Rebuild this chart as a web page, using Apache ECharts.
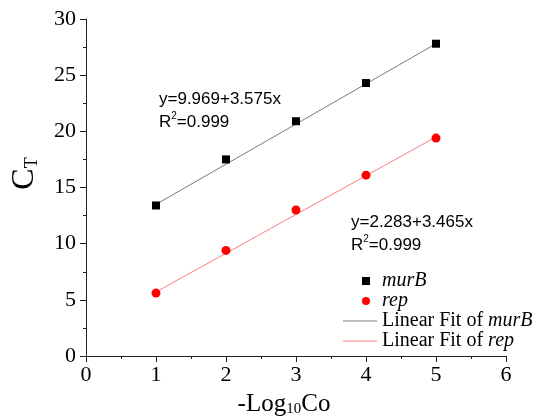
<!DOCTYPE html>
<html>
<head>
<meta charset="utf-8">
<script src="https://cdn.jsdelivr.net/npm/echarts@6/dist/echarts.min.js"></script>
<style>
html,body{margin:0;padding:0;background:#fff;}
#main{width:541px;height:419px;}
</style>
</head>
<body>
<div id="main"></div>
<script>
// data
var xTicks = [1, 2, 3, 4, 5];
var murB = [13.4, 17.5, 20.9, 24.3, 27.8];
var rep = [5.6, 9.4, 13.0, 16.1, 19.4];
// fitted lines, end points at x=1 and x=5
var fitX = [1, 5];
var fitMurB = [13.5, 27.8];
var fitRep = [5.7, 19.5];
var eqMurB = ['y=9.969+3.575x', '0.999'];
var eqRep = ['y=2.283+3.465x', '0.999'];

function pairs(xs, ys){
	var out = [];
	for(var i = 0; i < xs.length; i++){
		out.push([xs[i], ys[i]]);
	}
	return out;
}

var serif = 'Liberation Serif';
var sans = 'Liberation Sans';

var myChart = echarts.init(document.getElementById('main'));

var eqRich = {
	t: {fontFamily: sans, fontSize: 17, color: '#000', lineHeight: 23},
	sup: {fontFamily: sans, fontSize: 10, color: '#000', verticalAlign: 'top', lineHeight: 12}
};

var option = {
	animation: false,
	backgroundColor: '#fff',
	grid: {left: 86, right: 35, top: 19, bottom: 63, containLabel: false, outerBoundsMode: 'none'},
	xAxis: {
		type: 'value',
		min: 0, max: 6, interval: 1,
		name: '-Log{sub|10}Co',
		nameLocation: 'middle',
		nameGap: 36,
		nameTextStyle: {
			fontFamily: serif, fontSize: 25, color: '#000', padding: [0, 24, 0, 0],
			rich: {sub: {fontFamily: serif, fontSize: 15, color: '#000', verticalAlign: 'bottom', lineHeight: 12}}
		},
		axisLine: {lineStyle: {color: '#222', width: 1}},
		axisTick: {show: true, inside: false, length: 6, lineStyle: {color: '#222'}},
		minorTick: {show: true, splitNumber: 2, length: 3, lineStyle: {color: '#222'}},
		splitLine: {show: false},
		axisLabel: {fontFamily: serif, fontSize: 22, color: '#000', margin: 8}
	},
	yAxis: {
		type: 'value',
		min: 0, max: 30, interval: 5,
		name: '{c|C}{s|T}',
		nameLocation: 'middle',
		nameGap: 45,
		nameTextStyle: {
			padding: [0, 0, 0, 28],
			rich: {
				c: {fontFamily: serif, fontSize: 32, color: '#000', lineHeight: 32},
				s: {fontFamily: serif, fontSize: 18, color: '#000', verticalAlign: 'bottom', lineHeight: 14}
			}
		},
		axisLine: {show: true, lineStyle: {color: '#222', width: 1}},
		axisTick: {show: true, inside: false, length: 6, lineStyle: {color: '#222'}},
		minorTick: {show: true, splitNumber: 2, length: 3, lineStyle: {color: '#222'}},
		splitLine: {show: false},
		axisLabel: {fontFamily: serif, fontSize: 22, color: '#000', margin: 10}
	},
	legend: [{
		data: ['murB', 'rep'],
		orient: 'vertical',
		left: 357, top: 266,
		itemWidth: 8, itemHeight: 8, itemGap: 0,
		formatter: function(name){ return '{sp|}{i|' + name + '}'; },
		textStyle: {
			fontFamily: serif, fontSize: 20, color: '#000', lineHeight: 20,
			rich: {
				sp: {width: 7},
				i: {fontFamily: serif, fontSize: 20, fontStyle: 'italic', color: '#000', lineHeight: 20}
			}
		}
	}, {
		data: [
			{name: 'Linear Fit of murB', icon: 'rect'},
			{name: 'Linear Fit of rep', icon: 'rect'}
		],
		orient: 'vertical',
		left: 338, top: 306,
		itemWidth: 34, itemHeight: 1, itemGap: 0,
		formatter: function(name){ return '{n|Linear Fit of }{i|' + name.replace('Linear Fit of ', '') + '}'; },
		textStyle: {
			fontFamily: serif, fontSize: 20, color: '#000', lineHeight: 20,
			rich: {
				n: {fontFamily: serif, fontSize: 20, color: '#000', lineHeight: 20},
				i: {fontFamily: serif, fontSize: 20, fontStyle: 'italic', color: '#000', lineHeight: 20}
			}
		}
	}],
	graphic: [{
		type: 'text', left: 159, top: 91,
		style: {text: '{t|' + eqMurB[0] + '}\n{t|R}{sup|2}{t|=' + eqMurB[1] + '}', rich: eqRich}
	}, {
		type: 'text', left: 351, top: 214,
		style: {text: '{t|' + eqRep[0] + '}\n{t|R}{sup|2}{t|=' + eqRep[1] + '}', rich: eqRich}
	}],
	series: [{
		name: 'Linear Fit of murB',
		type: 'line',
		data: pairs(fitX, fitMurB),
		symbol: 'none',
		lineStyle: {color: '#7a7a7a', width: 1},
		itemStyle: {color: '#7a7a7a'},
		z: 1
	}, {
		name: 'Linear Fit of rep',
		type: 'line',
		data: pairs(fitX, fitRep),
		symbol: 'none',
		lineStyle: {color: '#ff7c7c', width: 1},
		itemStyle: {color: '#ff7c7c'},
		z: 1
	}, {
		name: 'murB',
		type: 'scatter',
		data: pairs(xTicks, murB),
		symbol: 'rect',
		symbolSize: 8,
		itemStyle: {color: '#000', opacity: 1},
		z: 3
	}, {
		name: 'rep',
		type: 'scatter',
		data: pairs(xTicks, rep),
		symbol: 'circle',
		symbolSize: 9,
		itemStyle: {color: '#ff0000', opacity: 1},
		z: 3
	}]
};
myChart.setOption(option, true);
</script>
</body>
</html>
